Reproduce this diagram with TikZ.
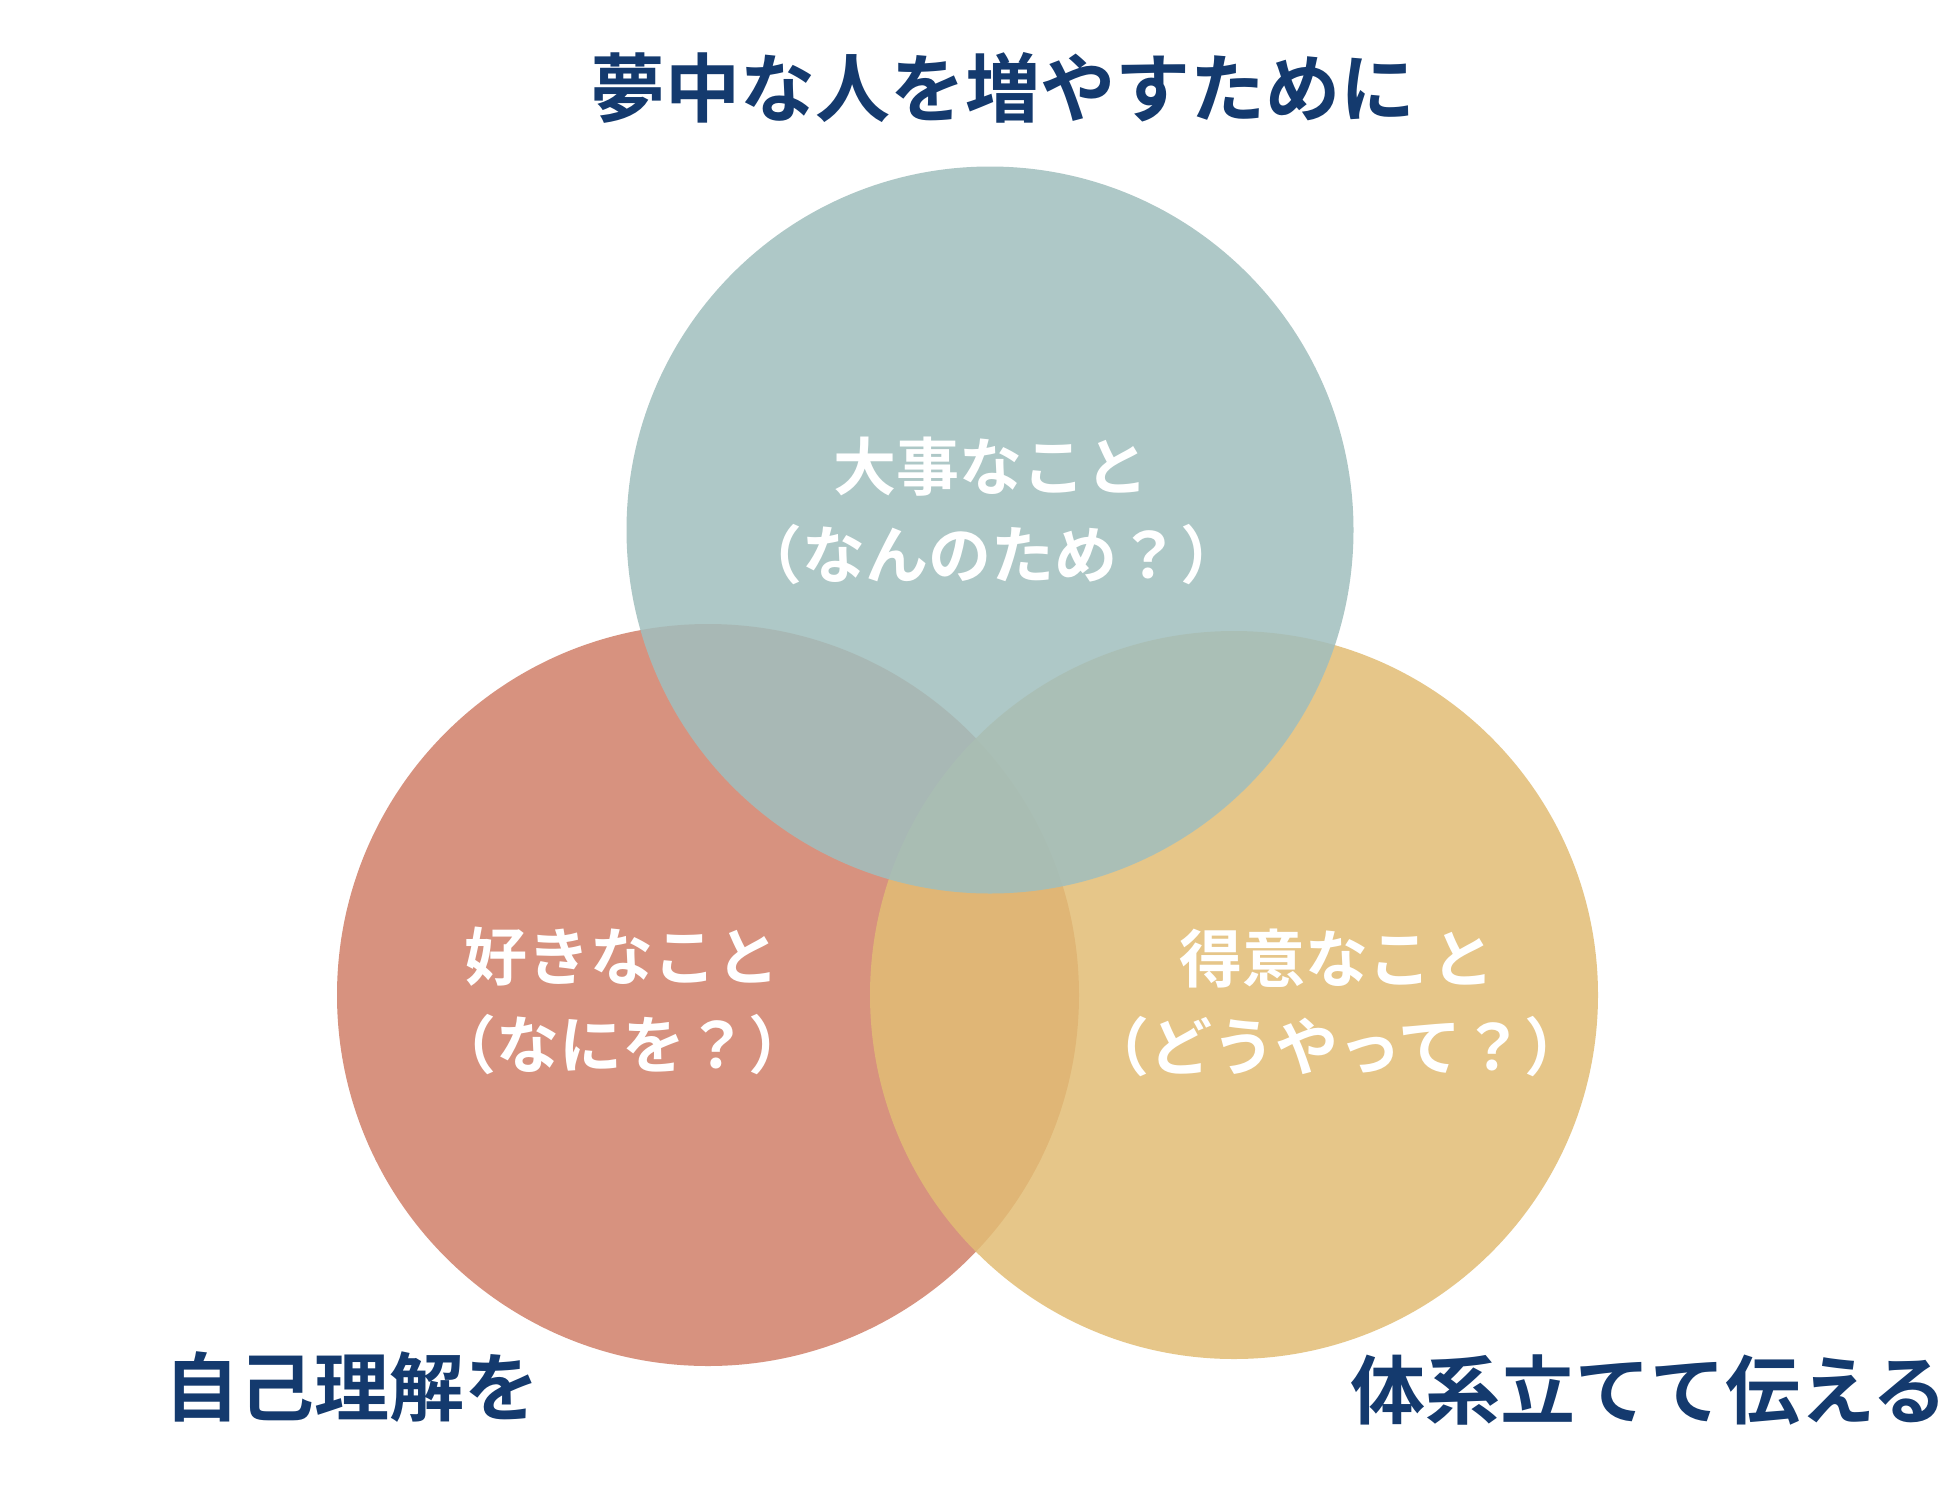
\documentclass[tikz,border=0pt]{standalone}
\usepackage{fontspec}
\newfontfamily\jp{Noto Sans CJK JP}[BoldFont={Noto Sans CJK JP Bold}]
\definecolor{navy}{RGB}{20,58,110}
\definecolor{cred}{RGB}{215,146,127}
\definecolor{cyel}{RGB}{226,189,117}
\definecolor{cteal}{RGB}{161,191,190}
\tikzset{
  venn/.style={circle, inner sep=0pt, draw=none},
  intext/.style={text=white, align=center, inner sep=0pt, font=\jp\bfseries\fontsize{63}{88}\selectfont},
  outtext/.style={text=navy, inner sep=0pt, font=\jp\bfseries\fontsize{75}{90}\selectfont}
}
\begin{document}
\begin{tikzpicture}[x=1pt,y=-1pt]
\useasboundingbox (0,0) rectangle (1957,1494);
\fill[white] (0,0) rectangle (1957,1494);
\node[venn, fill=cred, minimum size=742pt] (red) at (708,995) {};
\node[venn, fill=cyel, fill opacity=0.85, minimum size=728pt] (yel) at (1234,995) {};
\node[venn, fill=cteal, fill opacity=0.86, minimum size=727pt] (teal) at (990,530) {};
\node[intext] (tt) at (991,511) {大事なこと\\（なんのため？）};
\node[intext] (tl) at (622,1001) {好きなこと\\（なにを？）};
\node[intext] (tr) at (1337,1003) {得意なこと\\（どうやって？）};
\node[outtext] (title) at (1003,88) {夢中な人を増やすために};
\node[outtext] (bl) at (352,1387) {自己理解を};
\node[outtext] (br) at (1649,1390) {体系立てて伝える};
\end{tikzpicture}
\end{document}
